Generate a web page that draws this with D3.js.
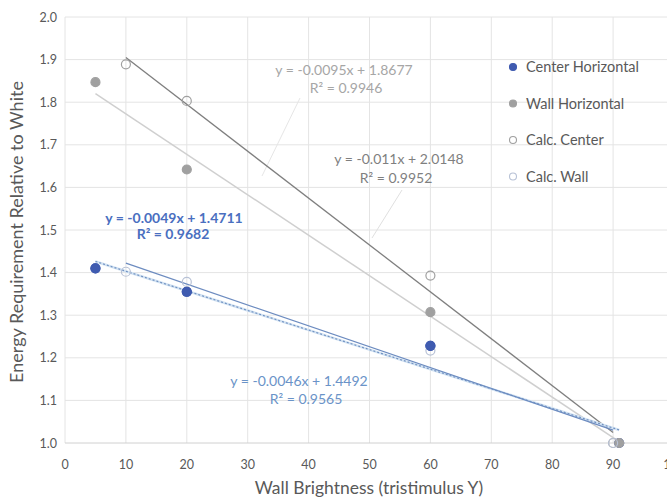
<!DOCTYPE html>
<html>
<head>
<meta charset="utf-8">
<script src="https://cdn.jsdelivr.net/npm/d3@7"></script>
<style>
  html, body { margin: 0; padding: 0; background: #fff; }
  svg { display: block; font-family: Lato, "Open Sans", sans-serif; }
</style>
</head>
<body>
<svg id="chart" width="667" height="503"></svg>
<script>
// ---- data ----
const seriesNames = ["Center Horizontal", "Wall Horizontal", "Calc. Center", "Calc. Wall"];
const centerX = [5, 20, 60, 91];
const centerY = [1.41, 1.355, 1.228, 1.0];
const wallX = [5, 20, 60, 91];
const wallY = [1.847, 1.642, 1.307, 1.0];
const calcCenterX = [10, 20, 60, 90];
const calcCenterY = [1.889, 1.803, 1.393, 1.0];
const calcWallX = [10, 20, 60, 90];
const calcWallY = [1.402, 1.378, 1.217, 1.0];
// trendlines: slope, intercept, R²
const trendCenter = { m: -0.0046, b: 1.4492, r2: "0.9565", x0: 5, x1: 91 };
const trendWall = { m: -0.0095, b: 1.8677, r2: "0.9946", x0: 5, x1: 91 };
const trendCalcCenter = { m: -0.011, b: 2.0148, r2: "0.9952", x0: 10, x1: 90 };
const trendCalcWall = { m: -0.0049, b: 1.4711, r2: "0.9682", x0: 10, x1: 90 };
const xTicks = [0, 10, 20, 30, 40, 50, 60, 70, 80, 90, 100];
const yTicks = [1.0, 1.1, 1.2, 1.3, 1.4, 1.5, 1.6, 1.7, 1.8, 1.9, 2.0];

// ---- layout ----
const svg = d3.select("#chart");
const x = d3.scaleLinear().domain([0, 100]).range([65, 674]);
const y = d3.scaleLinear().domain([1, 2]).range([443, 17]);
const textCol = "#595959";

// gridlines
svg.append("g").selectAll("line").data(xTicks).join("line")
  .attr("x1", d => x(d)).attr("x2", d => x(d))
  .attr("y1", y(2)).attr("y2", y(1))
  .attr("stroke", "#e4e4e4").attr("stroke-width", 1);
svg.append("g").selectAll("line").data(yTicks).join("line")
  .attr("x1", x(0)).attr("x2", 667)
  .attr("y1", d => y(d)).attr("y2", d => y(d))
  .attr("stroke", d => d === 1 ? "#d0d0d0" : "#e4e4e4").attr("stroke-width", 1);

// tick labels
svg.append("g").selectAll("text").data(xTicks).join("text")
  .attr("x", d => x(d)).attr("y", 469)
  .attr("text-anchor", "middle").attr("font-size", 12.5).attr("fill", textCol)
  .text(d => d);
svg.append("g").selectAll("text").data(yTicks).join("text")
  .attr("x", 57).attr("y", d => y(d) + 4.5)
  .attr("text-anchor", "end").attr("font-size", 12.5).attr("fill", textCol)
  .text(d => d.toFixed(1));

// axis titles
svg.append("text").attr("x", 369).attr("y", 494)
  .attr("text-anchor", "middle").attr("font-size", 17.5).attr("fill", textCol)
  .text("Wall Brightness (tristimulus Y)");
svg.append("text").attr("transform", "translate(23,232) rotate(-90)")
  .attr("text-anchor", "middle").attr("font-size", 18).attr("fill", textCol)
  .text("Energy Requirement Relative to White");

// leader lines (faint)
svg.append("line").attr("x1", 300).attr("y1", 98).attr("x2", 262).attr("y2", 176)
  .attr("stroke", "#e6e6e6").attr("stroke-width", 1);
svg.append("line").attr("x1", 402).attr("y1", 190).attr("x2", 372).attr("y2", 238)
  .attr("stroke", "#e0e0e0").attr("stroke-width", 1);

// trendlines
function trend(t, color, width, dash) {
  svg.append("line")
    .attr("x1", x(t.x0)).attr("y1", y(t.m * t.x0 + t.b))
    .attr("x2", x(t.x1)).attr("y2", y(t.m * t.x1 + t.b))
    .attr("stroke", color).attr("stroke-width", width)
    .attr("stroke-dasharray", dash || null);
}
trend(trendWall, "#cfcfcf", 1.5);
trend(trendCalcCenter, "#7f7f7f", 1.3);
trend(trendCenter, "#d3e3f3", 2.5);
trend(trendCenter, "#7393c2", 1.2, "2,2");
trend(trendCalcWall, "#6d8cc0", 1.2);

// markers
function pts(xs, ys, fill, stroke) {
  svg.append("g").selectAll("circle").data(xs.map((d, i) => [d, ys[i]])).join("circle")
    .attr("cx", d => x(d[0])).attr("cy", d => y(d[1])).attr("r", 4.5)
    .attr("fill", fill).attr("stroke", stroke).attr("stroke-width", 1.2);
}
pts(centerX, centerY, "#3f5bb0", "#3f5bb0");
pts(wallX, wallY, "#a0a0a0", "#a0a0a0");
pts(calcCenterX, calcCenterY, "none", "#a0a0a0");
pts(calcWallX, calcWallY, "none", "#b8c2d6");
// redraw visible center points on top (except the one hidden at the end)
pts(centerX.slice(0, 3), centerY.slice(0, 3), "#3f5bb0", "#3f5bb0");

// equation labels
function eq(cx, cy, rx, ry, t, color, bold) {
  const g = svg.append("g").attr("font-size", 14).attr("fill", color)
    .attr("font-weight", bold ? "bold" : "normal").attr("text-anchor", "middle");
  const eqText = "y = " + t.m + "x + " + t.b.toFixed(4);
  g.append("text").attr("x", cx).attr("y", cy).text(eqText);
  g.append("text").attr("x", rx).attr("y", ry).text("R² = " + t.r2);
}
eq(344, 75, 346, 93, trendWall, "#a6a6a6", false);
eq(399, 164, 396, 183, trendCalcCenter, "#7f7f7f", false);
eq(174, 223, 173, 239, trendCalcWall, "#4a6fc0", true);
eq(299, 386, 306, 404, trendCenter, "#6a93c8", false);

// legend
const legendStyle = [
  { fill: "#3f5bb0", stroke: "#3f5bb0" },
  { fill: "#a0a0a0", stroke: "#a0a0a0" },
  { fill: "#fff", stroke: "#a0a0a0" },
  { fill: "#fff", stroke: "#b8c2d6" }
];
const lg = svg.append("g").selectAll("g").data(seriesNames).join("g")
  .attr("transform", (d, i) => `translate(513,${67 + i * 36.5})`);
lg.append("circle").attr("r", 3.5)
  .attr("fill", (d, i) => legendStyle[i].fill)
  .attr("stroke", (d, i) => legendStyle[i].stroke).attr("stroke-width", 1.1);
lg.append("text").attr("x", 13).attr("y", 5)
  .attr("font-size", 14.5).attr("fill", textCol).text(d => d);
</script>
</body>
</html>
